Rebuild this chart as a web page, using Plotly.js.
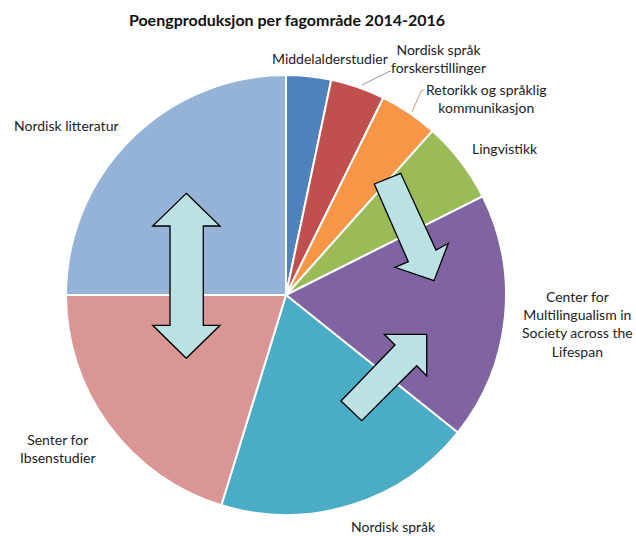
<!DOCTYPE html>
<html><head><meta charset="utf-8">
<script src="https://cdn.plot.ly/plotly-3.0.1.min.js"></script>
<style>html,body{margin:0;padding:0;background:#fff;}#chart{width:636px;height:536px;}</style>
</head><body><div id="chart"></div>
<script>
const categories = ["Middelalderstudier", "Nordisk språk forskerstillinger", "Retorikk og språklig kommunikasjon", "Lingvistikk", "Center for Multilingualism in Society across the Lifespan", "Nordisk språk", "Senter for Ibsenstudier", "Nordisk litteratur"];
const values = [3.3, 4.0, 4.3, 6.0, 18.15, 19.0, 20.25, 25.0];
const colors = ["#4F81BD", "#C0504D", "#F79646", "#9BBB59", "#8064A2", "#4BACC6", "#D99694", "#95B3D7"];
const labelText = ["Middelalderstudier", "Nordisk språk<br>forskerstillinger", "Retorikk og språklig<br>kommunikasjon", "Lingvistikk", "Center for<br>Multilingualism in<br>Society across the<br>Lifespan", "Nordisk språk", "Senter for<br>Ibsenstudier", "Nordisk litteratur"];
const labelPos = [[330,58],[438,59],[486,99],[505,148],[577,324],[393,526],[58,448],[66,125]];

const W = 636, H = 536;
const px = (x) => x / W, py = (y) => 1 - y / H;
function path(pts) {
  return pts.map((p, i) => (i ? 'L' : 'M') + px(p[0]).toFixed(5) + ',' + py(p[1]).toFixed(5)).join(' ') + ' Z';
}
function openPath(pts) {
  return pts.map((p, i) => (i ? 'L' : 'M') + px(p[0]).toFixed(5) + ',' + py(p[1]).toFixed(5)).join(' ');
}
const arrowFill = "#BCE1E4";
const arrows = [
  [[186.3,193.3],[220,226],[203.3,226],[203.3,325.3],[220,325.3],[186.3,358.3],[152.7,325.3],[170,325.3],[170,226],[152.7,226]],
  [[374.3,184],[400.7,173.3],[436,250],[448.3,243.3],[434,280.7],[395,267.3],[408.3,261.7]],
  [[341,401],[361.7,420.7],[416.7,365.7],[426.7,376],[426.7,334.3],[384.3,334.3],[395,345]]
];
const shapes = arrows.map(a => ({type:'path', xref:'paper', yref:'paper', path: path(a), fillcolor: arrowFill, line:{color:'#000', width:1.3}}));
shapes.push({type:'path', xref:'paper', yref:'paper', path: openPath([[362,85],[388,72],[391,71]]), line:{color:'#9a9a9a', width:1}});
shapes.push({type:'path', xref:'paper', yref:'paper', path: openPath([[412,112],[421,91],[424,90]]), line:{color:'#c8a070', width:1}});

const annotations = labelText.map((t, i) => ({
  text: t, xref:'paper', yref:'paper', x: px(labelPos[i][0]), y: py(labelPos[i][1]),
  xanchor:'center', yanchor:'middle', showarrow:false, align:'center',
  font:{family:'Lato, "Open Sans", sans-serif', size:14, color:'#222'}
}));

const data = [{
  type:'pie', labels: categories, values: values, sort:false, direction:'clockwise', rotation:0,
  textinfo:'none', hoverinfo:'label+value',
  marker:{colors: colors, line:{color:'#fff', width:2}},
  domain:{x:[px(66), px(506)], y:[py(515), py(75)]}
}];
const layout = {
  width: W, height: H, margin:{l:0, r:0, t:0, b:0}, showlegend:false,
  paper_bgcolor:'#fff',
  title:{text:'<b>Poengproduksjon per fagområde 2014-2016</b>', x: px(287), xanchor:'center', y: py(20), yanchor:'middle',
    font:{family:'Lato, "Open Sans", sans-serif', size:16, color:'#111'}},
  shapes: shapes, annotations: annotations
};
Plotly.newPlot('chart', data, layout, {displayModeBar:false, staticPlot:true});
</script></body></html>
